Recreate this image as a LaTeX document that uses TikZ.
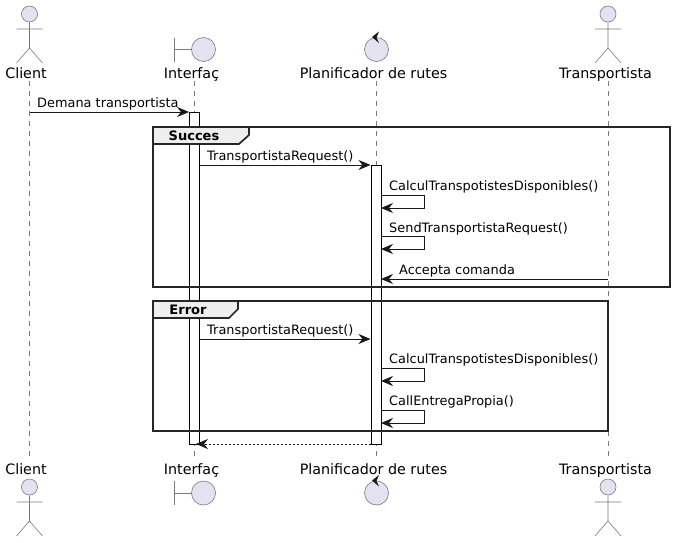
\documentclass[tikz,border=0pt]{standalone}
\usepackage{fontspec}
\setmainfont{DejaVu Sans}
\usetikzlibrary{arrows.meta}
\definecolor{partfill}{HTML}{E2E2F0}
\definecolor{partline}{HTML}{7A7A7A}
\definecolor{msgline}{HTML}{181818}
\definecolor{tabfill}{HTML}{EEEEEE}
\begin{document}
\begin{tikzpicture}[
    x=1pt, y=-1pt,
    title/.style={inner sep=0pt, anchor=base, font=\fontsize{14.3}{16}\selectfont},
    msg_label/.style={inner sep=0pt, anchor=base west, font=\fontsize{12.9}{15}\selectfont},
    tab_label/.style={inner sep=0pt, anchor=base, font=\fontsize{13}{15}\selectfont\bfseries},
    part/.style={circle, draw=partline, fill=partfill, line width=0.6pt, inner sep=0pt},
    part_line/.style={draw=partline, line width=0.6pt},
    lifeline/.style={draw=partline, line width=0.5pt, dash pattern=on 5pt off 5pt},
    activation/.style={rectangle, draw=black, fill=white, line width=0.8pt, inner sep=0pt, minimum width=10pt},
    group/.style={draw=black!85, line width=1.7pt},
    arrow/.style={draw=msgline, line width=0.8pt, -{Stealth[length=12pt, width=10pt, inset=4pt, color=msgline]}},
    dashed_arrow/.style={arrow, dash pattern=on 2pt off 2pt},
    pics/stickman/.style={code={
        \node (-head) at (0, 0) [part, minimum size=16pt] {};
        \draw [part_line] (-head.south) -- (0, 34) (-13, 15) -- (13, 15) (-13, 49) -- (0, 34) -- (13, 49);
    }},
    pics/boundary/.style={code={
        \node (-ball) at (0, 0) [part, minimum size=24pt] {};
        \draw [part_line] (-29, -12) -- (-29, 12) (-29, 0) -- (-ball.west);
    }},
    pics/looper/.style={code={
        \node (-ball) at (0, 0) [part, minimum size=24pt] {};
        \fill [msgline] (2.5, -18) -- (-4.5, -12.5) -- (2.5, -6.5) -- (0, -12) -- cycle;
    }}
]
\useasboundingbox (0, 0) rectangle (675, 542);

% --- Nodes ---
% Top row
\pic (client_top) at (29.5, 14) {stickman};
\pic (iface_top) at (203.5, 49.5) {boundary};
\pic (plan_top) at (376.5, 49.5) {looper};
\pic (trans_top) at (608, 14) {stickman};
\node (client_a) at (26, 78) [title] {Client};
\node (iface_a) at (191.5, 78) [title] {Interfaç};
\node (plan_a) at (373.5, 78) [title] {Planificador de rutes};
\node (trans_a) at (605.5, 78) [title] {Transportista};

% Bottom row
\node (client_b) at (26, 474) [title] {Client};
\node (iface_b) at (191.5, 474) [title] {Interfaç};
\node (plan_b) at (373.5, 474) [title] {Planificador de rutes};
\node (trans_b) at (605.5, 474) [title] {Transportista};
\pic (client_bot) at (29.5, 487) {stickman};
\pic (iface_bot) at (203.5, 493) {boundary};
\pic (plan_bot) at (376.5, 493) {looper};
\pic (trans_bot) at (608, 487) {stickman};

% Lifeline ends
\coordinate (client_s) at (29.5, 81);
\coordinate (client_e) at (29.5, 460);
\coordinate (iface_s) at (194.5, 81);
\coordinate (iface_e) at (194.5, 460);
\coordinate (plan_s) at (376.5, 81);
\coordinate (plan_e) at (376.5, 460);
\coordinate (trans_s) at (608, 81);
\coordinate (trans_e) at (608, 460);

% --- Edges ---
% Lifelines
\draw [lifeline] (client_s) -- (client_e);
\draw [lifeline] (iface_s) -- (iface_e);
\draw [lifeline] (plan_s) -- (plan_e);
\draw [lifeline] (trans_s) -- (trans_e);

% --- Activations ---
\node (iface_act) at (194.5, 278) [activation, minimum height=332pt] {};
\node (plan_act) at (376, 304.5) [activation, minimum height=279pt] {};

% --- Groups ---
\draw [group] (153, 127) rectangle (670, 287);
\draw [group, fill=tabfill] (153, 127) -- (249, 127) -- (249, 135) -- (239, 144) -- (153, 144) -- cycle;
\node (succes) at (194, 140) [tab_label] {Succes};
\draw [group] (153, 301) rectangle (608, 431);
\draw [group, fill=tabfill] (153, 301) -- (238, 301) -- (238, 309) -- (229, 318) -- (153, 318) -- cycle;
\node (error) at (188, 314) [tab_label] {Error};

% --- Messages ---
\coordinate (demana_s) at (29.5, 112);
\coordinate (demana_e) at (189, 112);
\draw [arrow] (demana_s) -- (demana_e);
\node (demana) at (37, 107) [msg_label] {Demana transportista};

% Succes flow
\coordinate (req1_s) at (199.5, 165);
\coordinate (req1_e) at (370.5, 165);
\draw [arrow] (req1_s) -- (req1_e);
\node (req1) at (207, 160) [msg_label] {TransportistaRequest()};

\coordinate (calc1_s) at (381, 195);
\coordinate (calc1_e) at (381, 208);
\draw [arrow] (calc1_s) -- (424, 195) -- (424, 208) -- (calc1_e);
\node (calc1) at (389, 190) [msg_label] {CalculTranspotistesDisponibles()};

\coordinate (send_s) at (381, 236);
\coordinate (send_e) at (381, 249);
\draw [arrow] (send_s) -- (424, 236) -- (424, 249) -- (send_e);
\node (send) at (389, 232) [msg_label] {SendTransportistaRequest()};

\coordinate (accepta_s) at (608, 279);
\coordinate (accepta_e) at (381, 279);
\draw [arrow] (accepta_s) -- (accepta_e);
\node (accepta) at (399, 274) [msg_label] {Accepta comanda};

% Error flow
\coordinate (req2_s) at (199.5, 339);
\coordinate (req2_e) at (370.5, 339);
\draw [arrow] (req2_s) -- (req2_e);
\node (req2) at (207, 334) [msg_label] {TransportistaRequest()};

\coordinate (calc2_s) at (381, 368);
\coordinate (calc2_e) at (381, 381);
\draw [arrow] (calc2_s) -- (424, 368) -- (424, 381) -- (calc2_e);
\node (calc2) at (389, 363) [msg_label] {CalculTranspotistesDisponibles()};

\coordinate (entrega_s) at (381, 410);
\coordinate (entrega_e) at (381, 423);
\draw [arrow] (entrega_s) -- (424, 410) -- (424, 423) -- (entrega_e);
\node (entrega) at (389, 405) [msg_label] {CallEntregaPropia()};

% Return
\coordinate (ret_s) at (371, 444);
\coordinate (ret_e) at (196, 444);
\draw [dashed_arrow] (ret_s) -- (ret_e);

\end{tikzpicture}
\end{document}
